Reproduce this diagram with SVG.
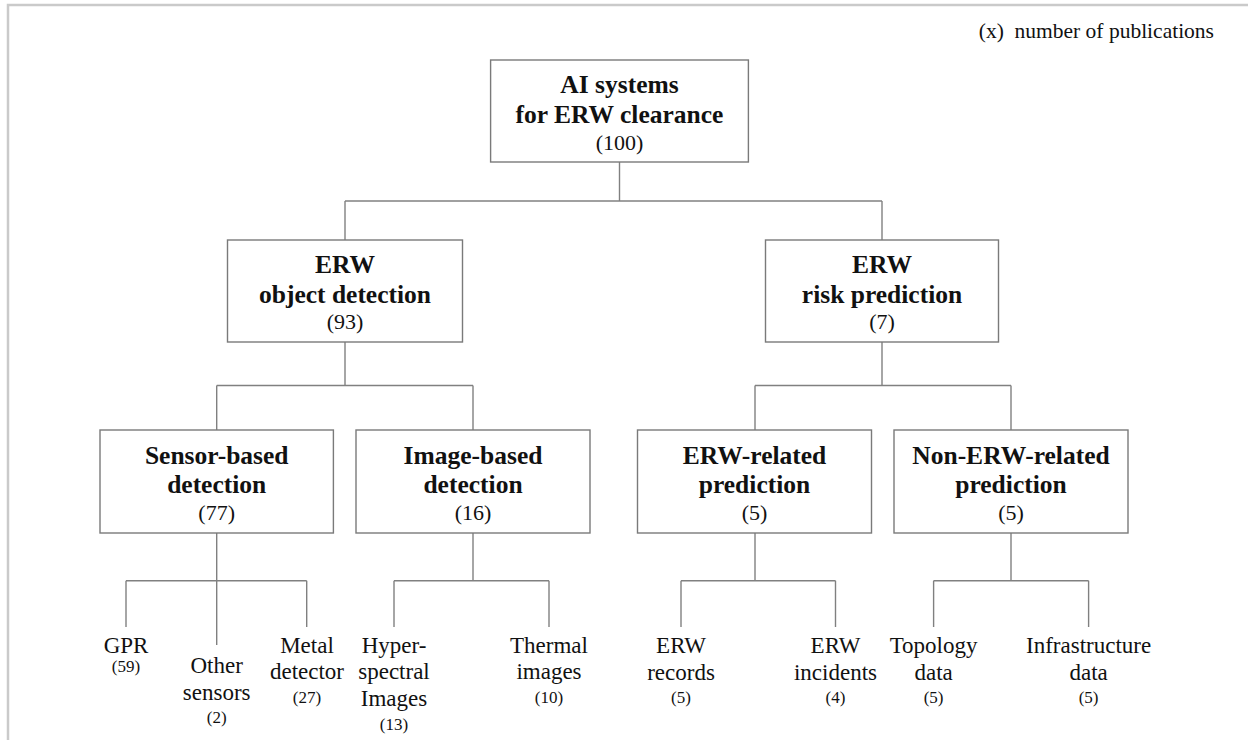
<svg xmlns="http://www.w3.org/2000/svg" width="1248" height="740" viewBox="0 0 1248 740">
<style>
  text { fill: #111; text-anchor: middle; }
  .b { font-weight: bold; font-size: 25.5px; }
  .c { font-size: 22px; }
  .l { font-size: 23px; }
  .lc { font-size: 17px; }
  .box { fill: #fff; stroke: #7a7a7a; stroke-width: 1.4; }
  .con line { stroke: #808080; stroke-width: 1.4; }
  .frame { stroke: #cacaca; stroke-width: 2.5; fill: none; }
</style>
<rect width="1248" height="740" fill="#fff"/>
<path class="frame" d="M8,740 V5 H1248"/>
<g font-family="Liberation Serif, Tinos, Times New Roman, DejaVu Serif, serif">
<text x="1214" y="38" style="font-size:21.5px;text-anchor:end" xml:space="preserve">(x)  number of publications</text>

<g class="con" id="connectors">
  <line x1="619.5" y1="162" x2="619.5" y2="201"/>
  <line x1="345" y1="201" x2="882" y2="201"/>
  <line x1="345" y1="201" x2="345" y2="240"/>
  <line x1="882" y1="201" x2="882" y2="240"/>

  <line x1="345" y1="342" x2="345" y2="385.5"/>
  <line x1="216.7" y1="385.5" x2="473" y2="385.5"/>
  <line x1="216.7" y1="385.5" x2="216.7" y2="430"/>
  <line x1="473" y1="385.5" x2="473" y2="430"/>

  <line x1="882" y1="342" x2="882" y2="385.5"/>
  <line x1="755" y1="385.5" x2="1011" y2="385.5"/>
  <line x1="755" y1="385.5" x2="755" y2="430"/>
  <line x1="1011" y1="385.5" x2="1011" y2="430"/>

  <line x1="216.7" y1="533" x2="216.7" y2="645"/>
  <line x1="126" y1="580.7" x2="306.7" y2="580.7"/>
  <line x1="126" y1="580.7" x2="126" y2="627"/>
  <line x1="306.7" y1="580.7" x2="306.7" y2="627"/>

  <line x1="473" y1="533" x2="473" y2="580.7"/>
  <line x1="394" y1="580.7" x2="549" y2="580.7"/>
  <line x1="394" y1="580.7" x2="394" y2="627"/>
  <line x1="549" y1="580.7" x2="549" y2="627"/>

  <line x1="755" y1="533" x2="755" y2="580.7"/>
  <line x1="681" y1="580.7" x2="835.5" y2="580.7"/>
  <line x1="681" y1="580.7" x2="681" y2="627"/>
  <line x1="835.5" y1="580.7" x2="835.5" y2="627"/>

  <line x1="1011" y1="533" x2="1011" y2="580.7"/>
  <line x1="933.6" y1="580.7" x2="1088.6" y2="580.7"/>
  <line x1="933.6" y1="580.7" x2="933.6" y2="627"/>
  <line x1="1088.6" y1="580.7" x2="1088.6" y2="627"/>
</g>

<g id="root">
  <rect class="box" x="490.6" y="60" width="257.8" height="102"/>
  <text class="b" x="619.5" y="92.7">AI systems</text>
  <text class="b" x="619.5" y="123.3">for ERW clearance</text>
  <text class="c" x="619.5" y="150">(100)</text>
</g>

<g id="object-detection">
  <rect class="box" x="227.5" y="240" width="235" height="102"/>
  <text class="b" x="345" y="272.7">ERW</text>
  <text class="b" x="345" y="302.7">object detection</text>
  <text class="c" x="345" y="329">(93)</text>
</g>

<g id="risk-prediction">
  <rect class="box" x="765.5" y="240" width="233" height="102"/>
  <text class="b" x="882" y="272.7">ERW</text>
  <text class="b" x="882" y="302.7">risk prediction</text>
  <text class="c" x="882" y="329">(7)</text>
</g>

<g id="sensor-based">
  <rect class="box" x="100" y="430" width="233.4" height="103"/>
  <text class="b" x="216.7" y="464">Sensor-based</text>
  <text class="b" x="216.7" y="493">detection</text>
  <text class="c" x="216.7" y="520">(77)</text>
</g>

<g id="image-based">
  <rect class="box" x="356" y="430" width="234" height="103"/>
  <text class="b" x="473" y="464">Image-based</text>
  <text class="b" x="473" y="493">detection</text>
  <text class="c" x="473" y="520">(16)</text>
</g>

<g id="erw-related">
  <rect class="box" x="637.5" y="430" width="234" height="103"/>
  <text class="b" x="754.5" y="464">ERW-related</text>
  <text class="b" x="754.5" y="493">prediction</text>
  <text class="c" x="754.5" y="520">(5)</text>
</g>

<g id="non-erw-related">
  <rect class="box" x="894" y="430" width="234" height="103"/>
  <text class="b" x="1011" y="464">Non-ERW-related</text>
  <text class="b" x="1011" y="493">prediction</text>
  <text class="c" x="1011" y="520">(5)</text>
</g>

<g id="gpr">
  <text class="l" x="126" y="653">GPR</text>
  <text class="lc" x="126" y="671.5">(59)</text>
</g>
<g id="other-sensors">
  <text class="l" x="216.7" y="673">Other</text>
  <text class="l" x="216.7" y="700">sensors</text>
  <text class="lc" x="216.7" y="722.7">(2)</text>
</g>
<g id="metal-detector">
  <text class="l" x="307" y="653">Metal</text>
  <text class="l" x="307" y="679.3">detector</text>
  <text class="lc" x="307" y="703">(27)</text>
</g>
<g id="hyperspectral">
  <text class="l" x="394" y="653">Hyper-</text>
  <text class="l" x="394" y="679.3">spectral</text>
  <text class="l" x="394" y="706">Images</text>
  <text class="lc" x="394" y="730">(13)</text>
</g>
<g id="thermal">
  <text class="l" x="549" y="653">Thermal</text>
  <text class="l" x="549" y="679.3">images</text>
  <text class="lc" x="549" y="703">(10)</text>
</g>
<g id="erw-records">
  <text class="l" x="681" y="653">ERW</text>
  <text class="l" x="681" y="680">records</text>
  <text class="lc" x="681" y="703">(5)</text>
</g>
<g id="erw-incidents">
  <text class="l" x="835.5" y="653">ERW</text>
  <text class="l" x="835.5" y="680">incidents</text>
  <text class="lc" x="835.5" y="703">(4)</text>
</g>
<g id="topology">
  <text class="l" x="933.6" y="653">Topology</text>
  <text class="l" x="933.6" y="680">data</text>
  <text class="lc" x="933.6" y="703">(5)</text>
</g>
<g id="infrastructure">
  <text class="l" x="1088.6" y="653">Infrastructure</text>
  <text class="l" x="1088.6" y="680">data</text>
  <text class="lc" x="1088.6" y="703">(5)</text>
</g>
</g>
</svg>
